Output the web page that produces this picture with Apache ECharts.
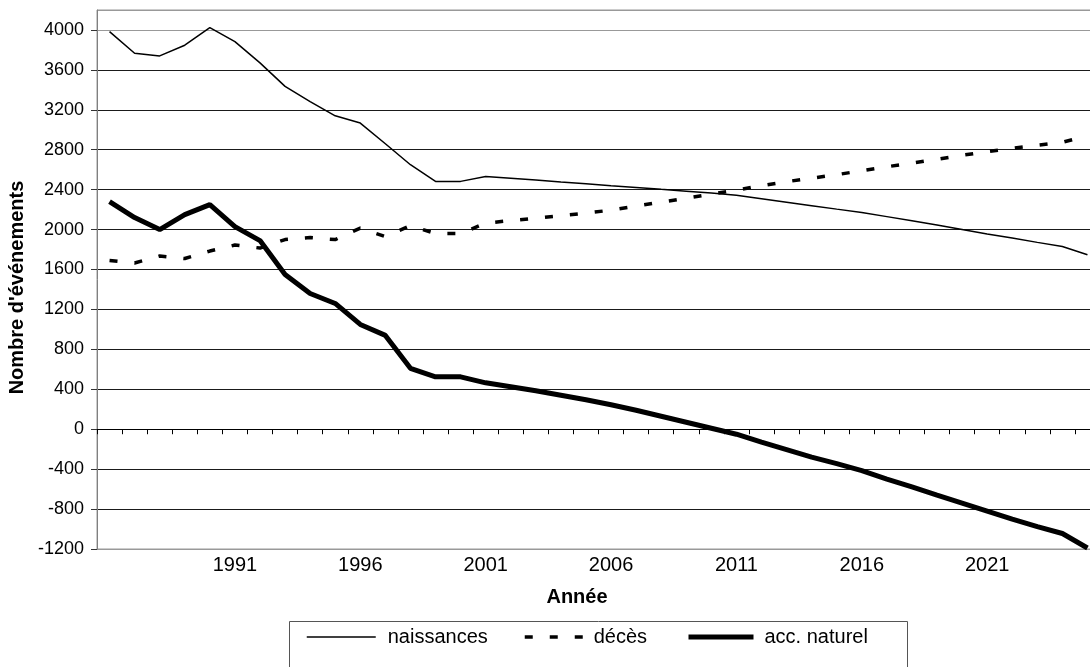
<!DOCTYPE html>
<html>
<head>
<meta charset="utf-8">
<script src="https://cdn.jsdelivr.net/npm/echarts@6/dist/echarts.min.js"></script>
<style>
html,body{margin:0;padding:0;background:#fff;}
#chart{width:1090px;height:667px;}
</style>
</head>
<body>
<div id="chart"></div>
<script>
const years = ['1986','1987','1988','1989','1990','1991','1992','1993','1994','1995',
  '1996','1997','1998','1999','2000','2001','2002','2003','2004','2005',
  '2006','2007','2008','2009','2010','2011','2012','2013','2014','2015',
  '2016','2017','2018','2019','2020','2021','2022','2023','2024','2025'];

const naissances = [3983,3767,3740,3847,4023,3883,3670,3435,3283,3140,
  3067,2860,2650,2483,2483,2533,2515,2497,2478,2460,
  2440,2422,2403,2385,2366,2345,2310,2275,2240,2205,
  2172,2130,2088,2045,2000,1955,1915,1872,1830,1748];

const deces = [1690,1665,1735,1710,1785,1845,1815,1900,1920,1900,
  2015,1930,2040,1960,1960,2065,2090,2115,2140,2165,
  2195,2235,2275,2315,2355,2395,2440,2480,2515,2550,
  2590,2630,2665,2705,2745,2780,2815,2845,2875,2940];

const accNaturel = [2280,2120,2000,2150,2250,2030,1890,1550,1360,1260,
  1050,940,610,525,525,465,425,385,340,295,
  245,190,130,70,10,-50,-130,-205,-280,-345,
  -415,-500,-578,-660,-740,-820,-900,-975,-1045,-1190];

const seriesNames = ['naissances', 'décès', 'acc. naturel'];
const yMin = -1200, yMax = 4200, yStep = 400;

const FONT = '"Liberation Sans", Arial, sans-serif';
const chart = echarts.init(document.getElementById('chart'), null, {renderer: 'canvas'});

const splitColors = [];
for (let v = yMin; v <= yMax; v += yStep) splitColors.push('#1a1a1a');
splitColors[0] = '#999';
splitColors[splitColors.length - 1] = '#999';

const hiddenSymbol = {color: 'rgba(0,0,0,0)', borderColor: 'rgba(0,0,0,0)', borderWidth: 0, opacity: 0};

function makeLegend(name, left, width, pad, lineStyle) {
  return {
    orient: 'horizontal', top: 627, left: left, data: [name], padding: 0,
    itemWidth: width, itemHeight: 14, selectedMode: false,
    itemStyle: hiddenSymbol,
    lineStyle: lineStyle,
    textStyle: {fontFamily: FONT, fontSize: 20, color: '#000', padding: [0, 0, 0, pad]}
  };
}

chart.setOption({
  animation: false,
  backgroundColor: '#fff',
  textStyle: {fontFamily: FONT},
  grid: {left: 97, right: -10, top: 10, bottom: 118, show: true, borderColor: '#999', borderWidth: 1,
    backgroundColor: 'transparent', outerBoundsMode: 'none', containLabel: false},
  graphic: [{
    type: 'rect', z: 1, silent: true,
    shape: {x: 289.5, y: 621.5, width: 618, height: 80},
    style: {fill: '#fff', stroke: '#555', lineWidth: 1}
  }],
  legend: [
    makeLegend(seriesNames[0], 306, 69, 7, {color: '#000', width: 1.5, type: 'solid'}),
    makeLegend(seriesNames[1], 523, 62, 2, {color: '#000', width: 3.5, type: [8, 17]}),
    makeLegend(seriesNames[2], 686, 65, 6, {color: '#000', width: 5, type: 'solid'})
  ],
  xAxis: [{
    type: 'category', data: years, boundaryGap: true,
    axisLine: {onZero: true, lineStyle: {color: '#000', width: 1}},
    axisTick: {show: true, interval: 0, length: 5, lineStyle: {color: '#000'}},
    axisLabel: {show: false},
    splitLine: {show: false}
  }, {
    type: 'category', data: years, boundaryGap: true, position: 'bottom',
    axisLine: {show: false, onZero: false},
    axisTick: {show: false},
    axisLabel: {
      show: true, fontSize: 20, color: '#000', fontFamily: FONT, margin: 6,
      interval: function (i) { return i > 0 && i % 5 === 0; }
    },
    name: 'Année', nameLocation: 'middle', nameGap: 38,
    nameTextStyle: {fontFamily: FONT, fontSize: 20, fontWeight: 'bold', color: '#000', padding: [0, 43, 0, 0]}
  }],
  yAxis: {
    type: 'value', min: yMin, max: yMax, interval: yStep,
    axisLine: {show: true, lineStyle: {color: '#808080'}},
    axisTick: {show: true, length: 6, lineStyle: {color: '#333'}},
    axisLabel: {fontSize: 18, color: '#000', fontFamily: FONT, margin: 13, showMaxLabel: false,
      formatter: function (v) { return String(v); }},
    splitLine: {show: true, lineStyle: {color: splitColors, width: 1}},
    name: "Nombre d'événements", nameLocation: 'middle', nameGap: 70, nameRotate: 90,
    nameTextStyle: {fontFamily: FONT, fontSize: 20, fontWeight: 'bold', color: '#000', padding: [0, 16, 0, 0]}
  },
  series: [{
    name: seriesNames[0], type: 'line', data: naissances, xAxisIndex: 0,
    symbol: 'none', color: '#000', lineStyle: {color: '#000', width: 1.5}, z: 3
  }, {
    name: seriesNames[1], type: 'line', data: deces, xAxisIndex: 0,
    symbol: 'none', color: '#000', lineStyle: {color: '#000', width: 3.5, type: [8, 17]}, z: 3
  }, {
    name: seriesNames[2], type: 'line', data: accNaturel, xAxisIndex: 0,
    symbol: 'none', color: '#000', lineStyle: {color: '#000', width: 5}, z: 3
  }]
});
</script>
</body>
</html>
